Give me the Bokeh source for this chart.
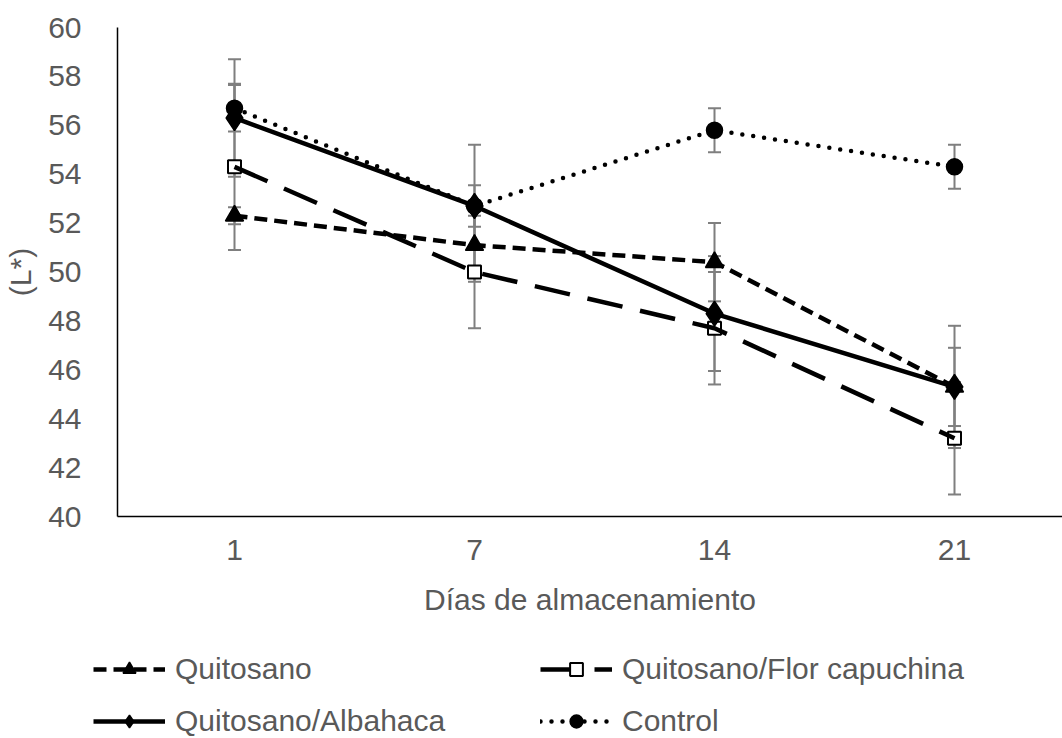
from bokeh.plotting import figure
from bokeh.models import (ColumnDataSource, Range1d, FixedTicker, Whisker,
                          TeeHead, Legend, LegendItem)
from bokeh.embed import file_html
from bokeh.resources import INLINE

# Storage days (category labels) and L* lightness per coating
days = ["1", "7", "14", "21"]
quitosano = [52.3, 51.1, 50.4, 45.3]
quitosano_err = [0.35, 1.5, 1.6, 2.5]
flor_capuchina = [54.3, 50.0, 47.7, 43.2]
flor_capuchina_err = [3.4, 2.3, 2.3, 2.3]
albahaca = [56.3, 52.7, 48.3, 45.3]
albahaca_err = [2.4, 2.5, 2.35, 1.6]
control = [56.7, 52.7, 55.8, 54.3]
control_err = [0.95, 0.85, 0.9, 0.9]
y_ticks = [40, 42, 44, 46, 48, 50, 52, 54, 56, 58, 60]

FONT = "Liberation Sans"
TEXT = "#595959"
FS = "30px"
LW = 4.5

p = figure(width=1062, height=620, output_backend="svg", toolbar_location=None,
           x_range=Range1d(-0.4875, 3.45), y_range=Range1d(40, 60),
           min_border_left=117, min_border_right=0, min_border_top=27,
           min_border_bottom=104)
p.outline_line_color = None
p.xgrid.visible = False
p.ygrid.visible = False

# category axis: one slot per storage day
xpos = list(range(len(days)))
p.xaxis.ticker = FixedTicker(ticks=xpos)
p.xaxis.major_label_overrides = {i: d for i, d in zip(xpos, days)}
p.yaxis.ticker = FixedTicker(ticks=y_ticks)

for ax in (p.xaxis[0], p.yaxis[0]):
    ax.axis_line_color = "black"
    ax.axis_line_width = 1.5
    ax.major_tick_line_color = None
    ax.minor_tick_line_color = None
    ax.major_label_text_font = FONT
    ax.major_label_text_font_size = FS
    ax.major_label_text_color = TEXT
    ax.axis_label_text_font = FONT
    ax.axis_label_text_font_size = FS
    ax.axis_label_text_font_style = "normal"
    ax.axis_label_text_color = TEXT

p.xaxis.axis_label = "Días de almacenamiento"
p.xaxis.major_label_standoff = 17
p.xaxis.axis_label_standoff = 20
p.yaxis.axis_label = "(L*)"
p.yaxis.major_label_standoff = 30
p.yaxis.axis_label_standoff = 8

series = [
    ("Quitosano", quitosano, quitosano_err,
     dict(marker="triangle", size=18, fill_color="black"), "13 7"),
    ("Quitosano/Flor capuchina", flor_capuchina, flor_capuchina_err,
     dict(marker="square", size=13, fill_color="white"), "36 18"),
    ("Quitosano/Albahaca", albahaca, albahaca_err,
     dict(marker="diamond", size=25, fill_color="black"), "solid"),
    ("Control", control, control_err,
     dict(marker="circle", size=16, fill_color="black"), "0 11"),
]

# strip under the chart that carries the legend (its ranges keep the
# series themselves out of view, only the swatches show)
leg_fig = figure(width=1062, height=118, output_backend="svg", toolbar_location=None,
                 x_range=Range1d(100, 101), y_range=Range1d(100, 101),
                 x_axis_location=None, y_axis_location=None, min_border=0)
leg_fig.outline_line_color = None
leg_fig.xgrid.visible = False
leg_fig.ygrid.visible = False

items = []
for name, vals, errs, mk, dash in series:
    src = ColumnDataSource(dict(
        x=xpos, y=vals,
        upper=[v + e for v, e in zip(vals, errs)],
        lower=[v - e for v, e in zip(vals, errs)],
    ))
    whisk = Whisker(source=src, base="x", upper="upper", lower="lower",
                    line_color="#7f7f7f", line_width=2,
                    upper_head=TeeHead(size=13, line_color="#7f7f7f", line_width=2),
                    lower_head=TeeHead(size=13, line_color="#7f7f7f", line_width=2))
    p.add_layout(whisk)

    cap = "round" if dash == "0 11" else "butt"
    line_kw = dict(line_color="black", line_width=LW, line_dash=dash, line_cap=cap)
    mk_kw = dict(marker=mk["marker"], size=mk["size"], fill_color=mk["fill_color"],
                 line_color="black",
                 line_width=2 if mk["marker"] == "square" else 1.5)

    if mk["marker"] == "square":
        p.scatter("x", "y", source=src, **mk_kw)
        p.line("x", "y", source=src, **line_kw)
    else:
        p.line("x", "y", source=src, **line_kw)
        p.scatter("x", "y", source=src, **mk_kw)

    ln = leg_fig.line("x", "y", source=src, **line_kw)
    sc = leg_fig.scatter("x", "y", source=src, **mk_kw)
    items.append(LegendItem(label=name, renderers=[ln, sc]))

legend = Legend(items=items, location=(93, 0), orientation="horizontal", ncols=2,
                glyph_width=72, glyph_height=32, label_height=32, label_width=347,
                label_standoff=10, spacing=18, padding=0, margin=0,
                border_line_color=None, background_fill_alpha=0,
                label_text_font=FONT, label_text_font_size=FS,
                label_text_color=TEXT)
leg_fig.add_layout(legend)

open("out.html", "w").write(file_html([p, leg_fig], INLINE))
